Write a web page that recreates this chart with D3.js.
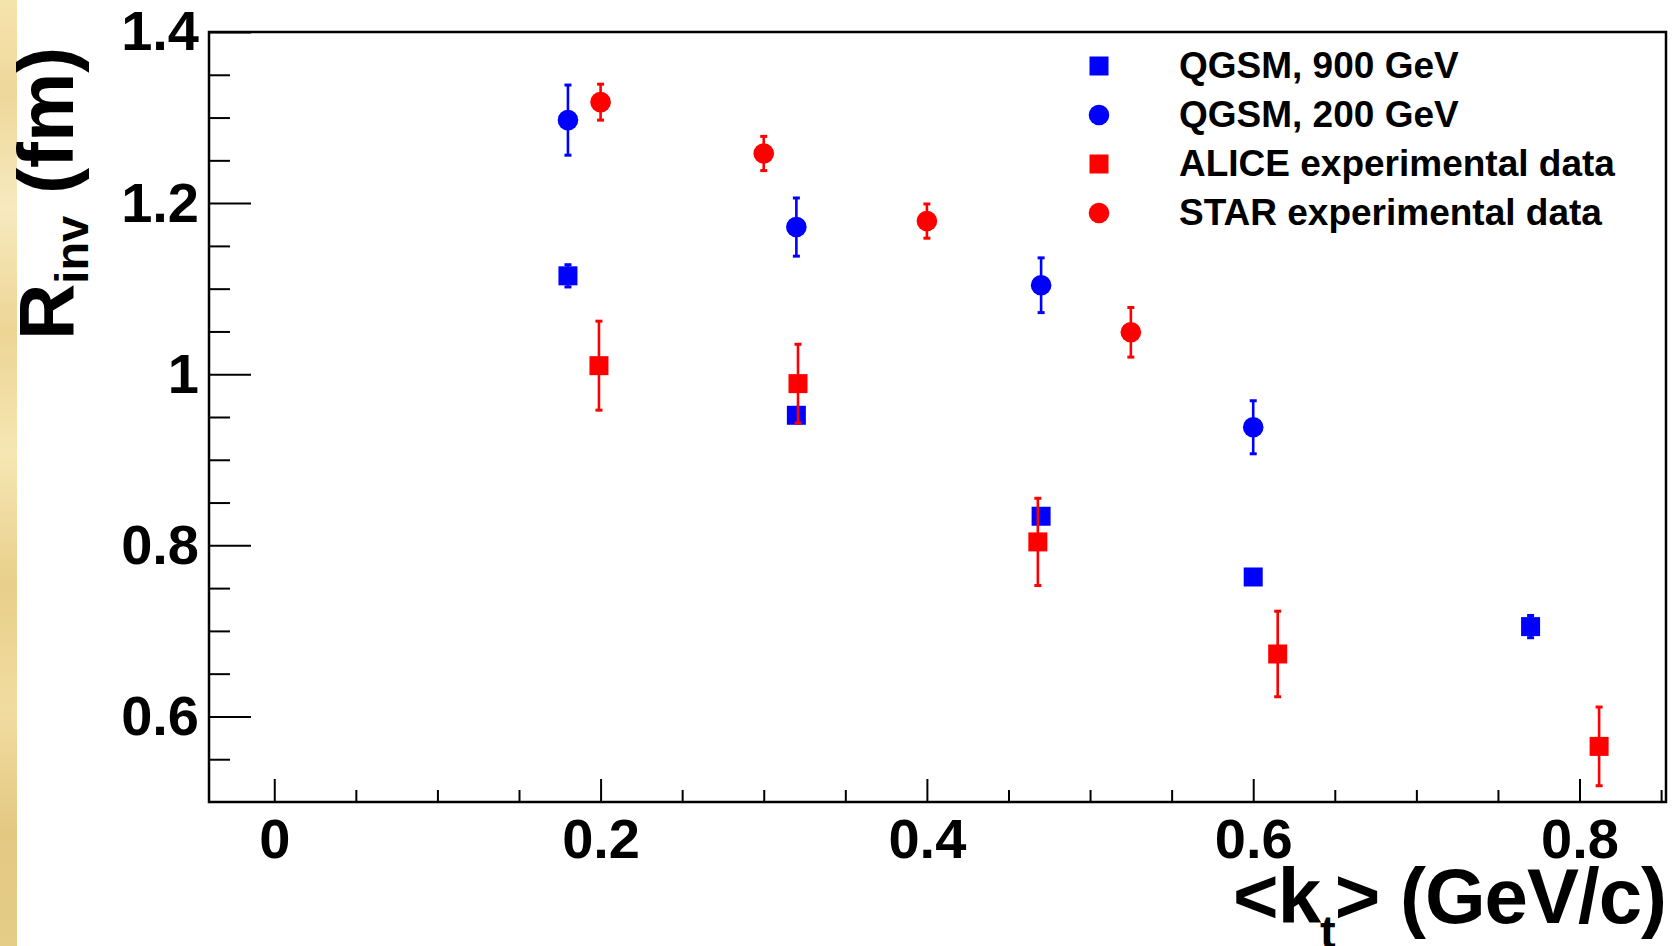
<!DOCTYPE html>
<html>
<head>
<meta charset="utf-8">
<script src="https://cdn.jsdelivr.net/npm/d3@7"></script>
<style>
body { margin: 0; background: #fff; }
svg { display: block; }
text { font-family: "Liberation Sans", Arial, Helvetica, sans-serif; font-weight: bold; fill: #000; }
</style>
</head>
<body>
<svg id="chart" width="1675" height="946"></svg>
<script>
// values: <kt> (GeV/c), Rinv (fm), err = half length of the error bar
var qgsm900X = [0.18, 0.32, 0.47, 0.60, 0.77];
var qgsm900Y = [1.115, 0.952, 0.834, 0.763, 0.705];
var qgsm900Err = [0.013, 0, 0, 0, 0.013];

var qgsm200X = [0.18, 0.32, 0.47, 0.60];
var qgsm200Y = [1.297, 1.172, 1.104, 0.938];
var qgsm200Err = [0.041, 0.034, 0.032, 0.031];

var aliceX = [0.199, 0.321, 0.468, 0.615, 0.812];
var aliceY = [1.010, 0.989, 0.804, 0.673, 0.565];
var aliceErr = [0.052, 0.046, 0.051, 0.050, 0.046];

var starX = [0.20, 0.30, 0.40, 0.525];
var starY = [1.318, 1.258, 1.179, 1.049];
var starErr = [0.021, 0.020, 0.020, 0.029];

var legendLabels = ["QGSM, 900 GeV", "QGSM, 200 GeV", "ALICE experimental data", "STAR experimental data"];

var xTicks = [0, 0.2, 0.4, 0.6, 0.8];
var xMinorTicks = [0.05, 0.1, 0.15, 0.25, 0.3, 0.35, 0.45, 0.5, 0.55, 0.65, 0.7, 0.75, 0.85];
var yTicks = [0.6, 0.8, 1, 1.2, 1.4];
var yMinorTicks = [0.55, 0.65, 0.7, 0.75, 0.85, 0.9, 0.95, 1.05, 1.1, 1.15, 1.25, 1.3, 1.35];

var svg = d3.select("#chart");

// frame of the pad
var frameL = 209, frameR = 1666, frameT = 32, frameB = 802;

var x = d3.scaleLinear().domain([-0.04, 0.853]).range([frameL, frameR]);
var y = d3.scaleLinear().domain([0.5, 1.4]).range([frameB, frameT]);

// gold stripe on the left edge of the slide
var grad = svg.append("defs").append("linearGradient")
    .attr("id", "stripe").attr("x1", 0).attr("y1", 0).attr("x2", 0).attr("y2", 1);
[["0%", "#f6e4ad"], ["10%", "#eed79a"], ["22%", "#f8eabe"], ["35%", "#ecd595"],
 ["48%", "#f6e6b3"], ["62%", "#e8cf8b"], ["75%", "#f1dca0"], ["88%", "#e3c882"], ["100%", "#e5cc87"]]
    .forEach(function(s) {
        grad.append("stop").attr("offset", s[0]).attr("stop-color", s[1]);
    });
svg.append("rect").attr("x", 0).attr("y", 0).attr("width", 17).attr("height", 946)
    .attr("fill", "url(#stripe)");

// axes, ticks pointing into the frame
function styleAxis(g) {
    g.select(".domain").remove();
    g.selectAll("line").attr("stroke", "#000").attr("stroke-width", 2);
    g.selectAll("text").attr("fill", "#000").attr("font-size", 56)
        .attr("font-family", null);
}

svg.append("g")
    .attr("transform", "translate(" + frameL + ",0)")
    .call(d3.axisLeft(y).tickValues(yMinorTicks).tickSize(-21).tickFormat(""))
    .call(styleAxis);
svg.append("g")
    .attr("transform", "translate(" + frameL + ",0)")
    .call(d3.axisLeft(y).tickValues(yTicks).tickSize(-42).tickPadding(10).tickFormat(d3.format("")))
    .call(styleAxis);

svg.append("g")
    .attr("transform", "translate(0," + frameB + ")")
    .call(d3.axisBottom(x).tickValues(xMinorTicks).tickSize(-12).tickFormat(""))
    .call(styleAxis);
svg.append("g")
    .attr("transform", "translate(0," + frameB + ")")
    .call(d3.axisBottom(x).tickValues(xTicks).tickSize(-23).tickPadding(16).tickFormat(d3.format("")))
    .call(styleAxis);

svg.append("rect")
    .attr("x", frameL).attr("y", frameT)
    .attr("width", frameR - frameL).attr("height", frameB - frameT)
    .attr("fill", "none").attr("stroke", "#000").attr("stroke-width", 2.5);

// series
var series = [
    {xs: qgsm900X, ys: qgsm900Y, err: qgsm900Err, color: "#0000ff", shape: "square"},
    {xs: qgsm200X, ys: qgsm200Y, err: qgsm200Err, color: "#0000ff", shape: "circle"},
    {xs: aliceX, ys: aliceY, err: aliceErr, color: "#ff0000", shape: "square"},
    {xs: starX, ys: starY, err: starErr, color: "#ff0000", shape: "circle"}
];

function drawMarker(g, shape, color, cx, cy) {
    if (shape === "square") {
        g.append("rect").attr("x", cx - 9.5).attr("y", cy - 9.5)
            .attr("width", 19).attr("height", 19).attr("fill", color);
    } else {
        g.append("circle").attr("cx", cx).attr("cy", cy).attr("r", 10.3).attr("fill", color);
    }
}

series.forEach(function(s) {
    var g = svg.append("g");
    var pts = s.xs.map(function(v, i) { return {x: v, y: s.ys[i], e: s.err[i]}; });
    pts.forEach(function(p) {
        var cx = x(p.x), cy = y(p.y);
        if (p.e > 0) {
            var y1 = y(p.y + p.e), y2 = y(p.y - p.e);
            g.append("line").attr("x1", cx).attr("x2", cx).attr("y1", y1).attr("y2", y2)
                .attr("stroke", s.color).attr("stroke-width", 2.6);
            [y1, y2].forEach(function(yy) {
                g.append("line").attr("x1", cx - 3.5).attr("x2", cx + 3.5).attr("y1", yy).attr("y2", yy)
                    .attr("stroke", s.color).attr("stroke-width", 3);
            });
        }
        drawMarker(g, s.shape, s.color, cx, cy);
    });
});

// legend (no box)
var legend = svg.append("g");
legendLabels.forEach(function(label, i) {
    var ly = 66 + i * 49;
    drawMarker(legend, series[i].shape, series[i].color, 1099, ly);
    legend.append("text").attr("x", 1179).attr("y", ly + 12)
        .attr("font-size", 37).text(label);
});

// axis titles
var yTitle = svg.append("text")
    .attr("transform", "translate(73,340) rotate(-90)")
    .attr("font-size", 78);
yTitle.append("tspan").text("R");
yTitle.append("tspan").attr("font-size", 47).attr("dy", 15).text("inv");
yTitle.append("tspan").attr("dy", -15).text(" (fm)");

var xTitle = svg.append("text")
    .attr("x", frameR).attr("y", 923)
    .attr("text-anchor", "end")
    .attr("letter-spacing", -1)
    .attr("font-size", 78);
xTitle.append("tspan").text("<k");
xTitle.append("tspan").attr("font-size", 47).attr("dy", 25).text("t");
xTitle.append("tspan").attr("dy", -25).text("> (GeV/c)");
</script>
</body>
</html>
